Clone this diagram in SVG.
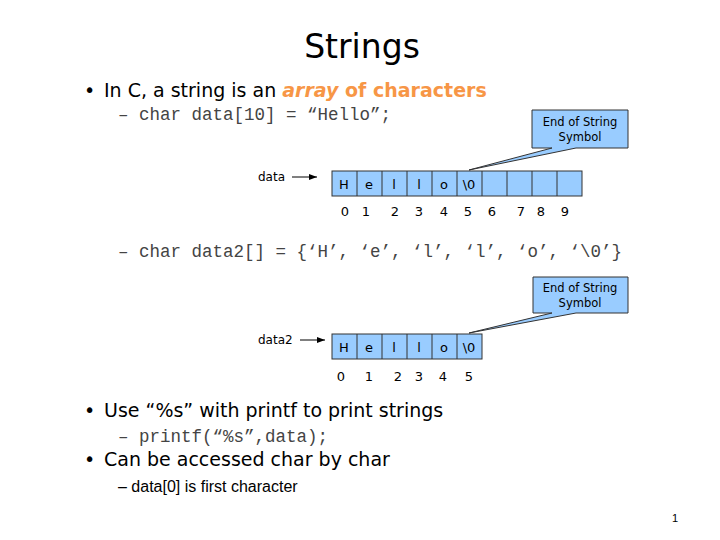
<svg xmlns="http://www.w3.org/2000/svg" width="720" height="540" viewBox="0 0 720 540">
<style>
.m{font-family:"Liberation Mono",monospace;font-size:17.5px;fill:#444}
.c{fill:#99ccff;stroke:#333;stroke-width:1}
.s{font-family:"DejaVu Sans",sans-serif;font-size:11.5px;text-anchor:middle}
.co{fill:#99ccff;stroke:#333;stroke-width:1}
</style>
<defs><marker id="a" markerWidth="8" markerHeight="6" refX="8" refY="3" orient="auto"><path d="M0,0L8,3L0,6z" fill="#000"/></marker></defs>
<rect width="720" height="540" fill="#fff"/>
<text x="362" y="58" text-anchor="middle" style="font-family:'DejaVu Sans',sans-serif;font-size:33px">Strings</text>
<g style="font-family:'DejaVu Sans',sans-serif;font-size:19px">
<text x="84" y="97">•</text><text x="104" y="97">In C, a string is an <tspan fill="#f79646" font-weight="bold" font-style="italic">array</tspan><tspan fill="#f79646" font-weight="bold"> of characters</tspan></text>
<text x="84" y="417">•</text><text x="104" y="417">Use “%s” with printf to print strings</text>
<text x="84" y="466">•</text><text x="104" y="466">Can be accessed char by char</text>
</g>
<text class="m" x="118" y="120">– char data[10] = “Hello”;</text>
<text class="m" x="118" y="257">– char data2[] = {‘H’, ‘e’, ‘l’, ‘l’, ‘o’, ‘\0’}</text>
<text class="m" x="118" y="442">– printf(“%s”,data);</text>
<text x="118" y="492" style="font-family:'Liberation Sans',Arial,sans-serif;font-size:16px">– data[0] is first character</text>
<text x="672" y="522" style="font-family:'Liberation Sans',sans-serif;font-size:11px">1</text>
<g id="arr1">
<rect class="c" x="332" y="171" width="250" height="25"/>
<g stroke="#333"><path d="M357 171v25M382 171v25M407 171v25M432 171v25M457 171v25M482 171v25M507 171v25M532 171v25M557 171v25"/></g>
<g class="s" style="font-size:13px"><text x="344" y="189">H</text><text x="369" y="189">e</text><text x="394" y="189">l</text><text x="419" y="189">l</text><text x="444" y="189">o</text><text x="469" y="189">\0</text></g>
<g class="s" style="font-size:13px"><text x="345" y="216">0</text><text x="366" y="216">1</text><text x="395" y="216">2</text><text x="419" y="216">3</text><text x="444" y="216">4</text><text x="468" y="216">5</text><text x="492" y="216">6</text><text x="521" y="216">7</text><text x="541" y="216">8</text><text x="565" y="216">9</text></g>
</g>
<g id="label1"><text x="258" y="181" style="font-family:'DejaVu Sans',sans-serif;font-size:12px">data</text></g>
<g id="callout1"><path class="co" d="M532 110H628V148H576L469 170L552 148H532Z"/>
<text class="s" x="580" y="126">End of String</text><text class="s" x="580" y="141">Symbol</text></g>
<g id="arr2">
<rect class="c" x="332" y="334" width="150" height="25"/>
<g stroke="#333"><path d="M357 334v25M382 334v25M407 334v25M432 334v25M457 334v25"/></g>
<g class="s" style="font-size:13px"><text x="344" y="352">H</text><text x="369" y="352">e</text><text x="394" y="352">l</text><text x="419" y="352">l</text><text x="444" y="352">o</text><text x="469" y="352">\0</text></g>
<g class="s" style="font-size:13px"><text x="341" y="381">0</text><text x="369" y="381">1</text><text x="398" y="381">2</text><text x="419" y="381">3</text><text x="443" y="381">4</text><text x="469" y="381">5</text></g>
</g>
<g id="label2"><text x="258" y="344" style="font-family:'DejaVu Sans',sans-serif;font-size:12px">data2</text></g>
<g id="callout2"><path class="co" d="M533 277H628V313H576L469 333L552 313H533Z"/>
<text class="s" x="580" y="292">End of String</text><text class="s" x="580" y="307">Symbol</text></g>
<g id="connectors" stroke="#000" stroke-width="1">
<line x1="292" y1="177" x2="317" y2="177" marker-end="url(#a)"/>
<line x1="300" y1="340" x2="325" y2="340" marker-end="url(#a)"/>
</g>
</svg>
